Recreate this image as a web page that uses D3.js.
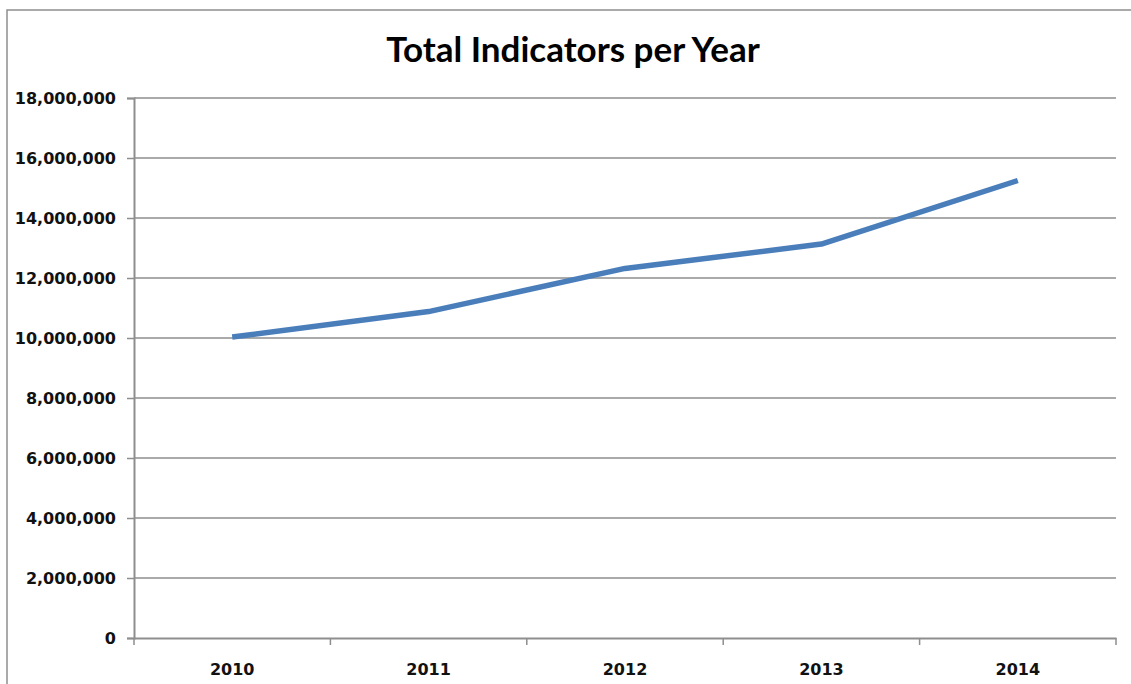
<!DOCTYPE html>
<html>
<head>
	<script src="https://d3js.org/d3.v7.min.js"></script>
	<style>
		body { margin: 0; background: #fff; overflow: hidden; }
		svg { display: block; }
	</style>
</head>
<body>
	<script type="text/javascript">

		//chart data
		var years = ["2010", "2011", "2012", "2013", "2014"];
		var totals = [10030000, 10880000, 12320000, 13130000, 15250000];
		var yTicks = [0, 2000000, 4000000, 6000000, 8000000, 10000000, 12000000, 14000000, 16000000, 18000000];
		var title = "Total Indicators per Year";

		var w = 1131;
		var h = 684;
		var margin = {top: 98, right: 15, bottom: 46, left: 134};

		var svg = d3.select("body")
				.append("svg")
				.attr("width", w)
				.attr("height", h);

		//outer chart frame: only left and top edges are in view
		svg.append("path")
			.attr("d", "M7," + h + "V10H" + w)
			.attr("fill", "none")
			.attr("stroke", "#8e8e8e")
			.attr("stroke-width", 1.5);

		svg.append("text")
			.attr("x", 573)
			.attr("y", 62)
			.attr("text-anchor", "middle")
			.style("font-family", "Lato, 'Open Sans', sans-serif")
			.style("font-weight", "bold")
			.style("font-size", "35px")
			.attr("fill", "#000")
			.text(title);

		//scales
		var xScale = d3.scaleBand()
				.domain(years)
				.range([margin.left, w - margin.right]);

		var yScale = d3.scaleLinear()
				.domain([0, 18000000])
				.range([h - margin.bottom, margin.top]);

		var fmt = d3.format(",");

		//horizontal gridlines
		svg.append("g")
			.selectAll("line")
			.data(yTicks.slice(1))
			.enter()
			.append("line")
			.attr("x1", margin.left)
			.attr("x2", w - margin.right)
			.attr("y1", function(d){ return yScale(d); })
			.attr("y2", function(d){ return yScale(d); })
			.attr("stroke", "#8e8e8e")
			.attr("stroke-width", 1.5);

		//y axis
		var yAxis = svg.append("g")
			.attr("transform", "translate(" + margin.left + ",0)")
			.call(d3.axisLeft(yScale)
				.tickValues(yTicks)
				.tickFormat(fmt)
				.tickSize(7)
				.tickPadding(11));

		//x axis, ticks between categories
		var xAxis = svg.append("g")
			.attr("transform", "translate(0," + (h - margin.bottom) + ")")
			.call(d3.axisBottom(xScale).tickSize(0).tickPadding(26));

		xAxis.append("g")
			.selectAll("line")
			.data(years.concat(["end"]))
			.enter()
			.append("line")
			.attr("x1", function(d, i){ return margin.left + i * xScale.step(); })
			.attr("x2", function(d, i){ return margin.left + i * xScale.step(); })
			.attr("y1", 0)
			.attr("y2", 7)
			.attr("stroke", "#8e8e8e")
			.attr("stroke-width", 1.5);

		svg.selectAll(".domain")
			.attr("stroke", "#8e8e8e")
			.attr("stroke-width", 2);
		yAxis.selectAll(".tick line")
			.attr("stroke", "#8e8e8e")
			.attr("stroke-width", 1.5);

		svg.selectAll(".tick text")
			.style("font-family", "'DejaVu Sans', sans-serif")
			.style("font-weight", "bold")
			.style("font-size", "16px")
			.attr("fill", "#111");

		//the line
		var line = d3.line()
			.x(function(d, i){ return xScale(years[i]) + xScale.bandwidth() / 2; })
			.y(function(d){ return yScale(d); });

		svg.append("path")
			.datum(totals)
			.attr("d", line)
			.attr("fill", "none")
			.attr("stroke", "#4a7ebb")
			.attr("stroke-width", 5.5)
			.attr("stroke-linejoin", "round");

	</script>
</body>
</html>
